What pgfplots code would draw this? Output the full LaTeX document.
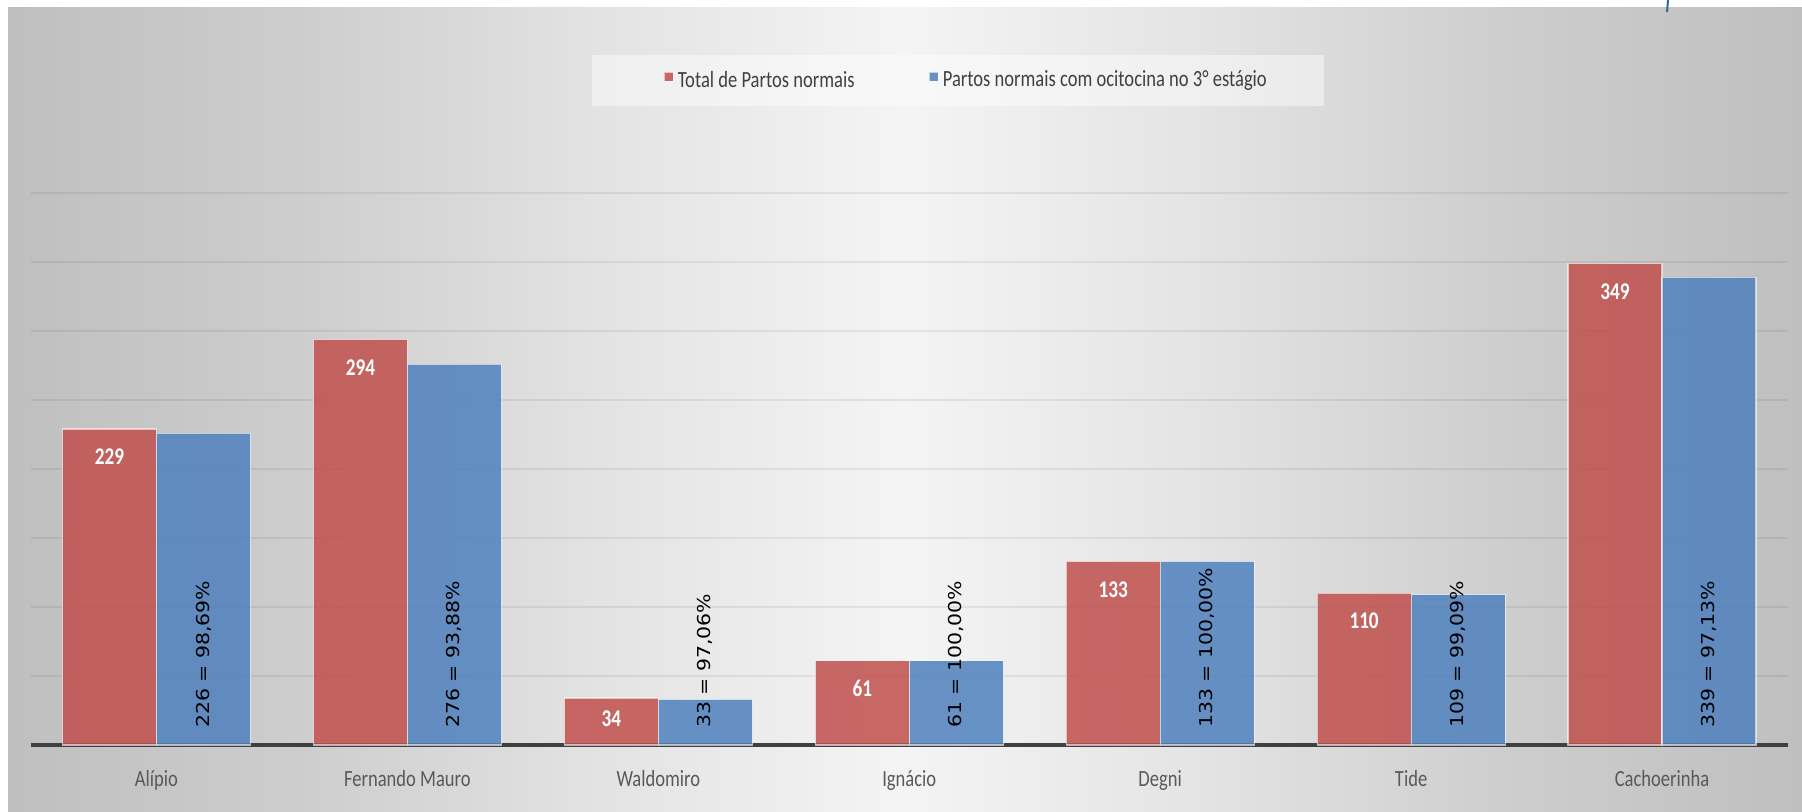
\documentclass[border=0pt]{standalone}
\usepackage{pgfplots}
\pgfplotsset{compat=1.18}
\usepackage{fontspec}
\setmainfont{Carlito}
\newfontfamily\cfont[FakeStretch=0.8]{Carlito}
\newfontfamily\lfont[FakeStretch=1.15]{DejaVu Sans}
\definecolor{barred}{RGB}{192,80,77}
\definecolor{barblue}{RGB}{79,129,189}
\definecolor{axiscol}{RGB}{64,64,64}
\definecolor{catgray}{RGB}{89,89,89}
\definecolor{legtext}{RGB}{64,64,64}
\definecolor{g0}{RGB}{191,191,191}
\definecolor{g1}{RGB}{205,205,205}
\definecolor{g2}{RGB}{228,228,228}
\definecolor{g3}{RGB}{244,244,244}
\pgfdeclarehorizontalshading{bgshade}{100bp}{color(0bp)=(g0); color(25bp)=(g0); color(33bp)=(g1); color(42bp)=(g2); color(50bp)=(g3); color(58bp)=(g2); color(67bp)=(g1); color(75bp)=(g0); color(100bp)=(g0)}
\begin{document}
\begin{tikzpicture}
\useasboundingbox (0,0) rectangle (901pt,406pt);
\fill[white] (0,0) rectangle (901pt,406pt);
\shade[shading=bgshade] (4pt,0) rectangle (901pt,402pt);
\draw[line width=1pt, color={rgb,255:red,40;green,110;blue,150}] (834pt,406pt) -- (833.5pt,400pt);
\fill[white, opacity=0.45] (296pt,353pt) rectangle (662pt,378.5pt);
\begin{axis}[
  at={(15.5pt,33.5pt)}, anchor=south west,
  scale only axis, width=878.25pt, height=276pt,
  xmin=-0.5, xmax=6.5, ymin=0, ymax=400,
  axis x line=bottom, axis y line=left,
  x axis line style={-, line width=2.2pt, color=axiscol},
  y axis line style={draw=none},
  major tick length=0pt,
  xtick={0,1,2,3,4,5,6},
  xticklabels={Alípio, Fernando Mauro, Waldomiro, Ignácio, Degni, Tide, Cachoerinha},
  xticklabel style={font=\cfont\fontsize{11.6}{13}\selectfont, text=catgray, anchor=base, yshift=-21pt},
  ytick={50,100,...,400}, yticklabels={},
  ymajorgrids, major grid style={draw=black, draw opacity=0.065, line width=1pt},
  clip=false,
  legend columns=2,
  legend style={at={(0.533,1.2038)}, anchor=center, draw=none, fill=none,
    font=\cfont\fontsize{11.6}{13}\selectfont, text=legtext,
    /tikz/every even column/.append style={column sep=35pt}},
  legend image code/.code={\fill[#1] (0pt,-0.3pt) rectangle (4.5pt,4.2pt);},
]
\addplot[ybar, bar width=47pt, bar shift=-23.5pt, fill=barred, fill opacity=0.85,
  draw=white, draw opacity=0.6, line width=0.6pt,
  point meta=explicit symbolic, nodes near coords,
  visualization depends on=y \as \rawy,
  every node near coord/.style={anchor=center, xshift=-23.5pt, yshift={-min(14,0.3*\rawy)}, font=\cfont\bfseries\fontsize{12}{13}\selectfont, text=white, text opacity=1}]
coordinates {(0,229)[229] (1,294)[294] (2,34)[34] (3,61)[61] (4,133)[133] (5,110)[110] (6,349)[349]};
\addlegendentry{Total de Partos normais}
\addplot[ybar, bar width=47pt, bar shift=23.5pt, fill=barblue, fill opacity=0.85,
  draw=white, draw opacity=0.6, line width=0.6pt]
coordinates {(0,226) (1,276) (2,33) (3,61) (4,133) (5,109) (6,339)};
\addlegendentry{Partos normais com ocitocina no 3° estágio}
\addplot[draw=none, mark=none, forget plot,
  point meta=explicit symbolic, nodes near coords,
  every node near coord/.style={xshift=23.5pt, yshift=8.3pt, rotate=90, anchor=west, inner sep=0pt, font=\lfont\fontsize{8.9}{10}\selectfont, text=black}]
coordinates {(0,0)[226 = 98,69\%] (1,0)[276 = 93,88\%] (2,0)[33 = 97,06\%] (3,0)[61 = 100,00\%] (4,0)[133 = 100,00\%] (5,0)[109 = 99,09\%] (6,0)[339 = 97,13\%]};
\end{axis}
\end{tikzpicture}
\end{document}
